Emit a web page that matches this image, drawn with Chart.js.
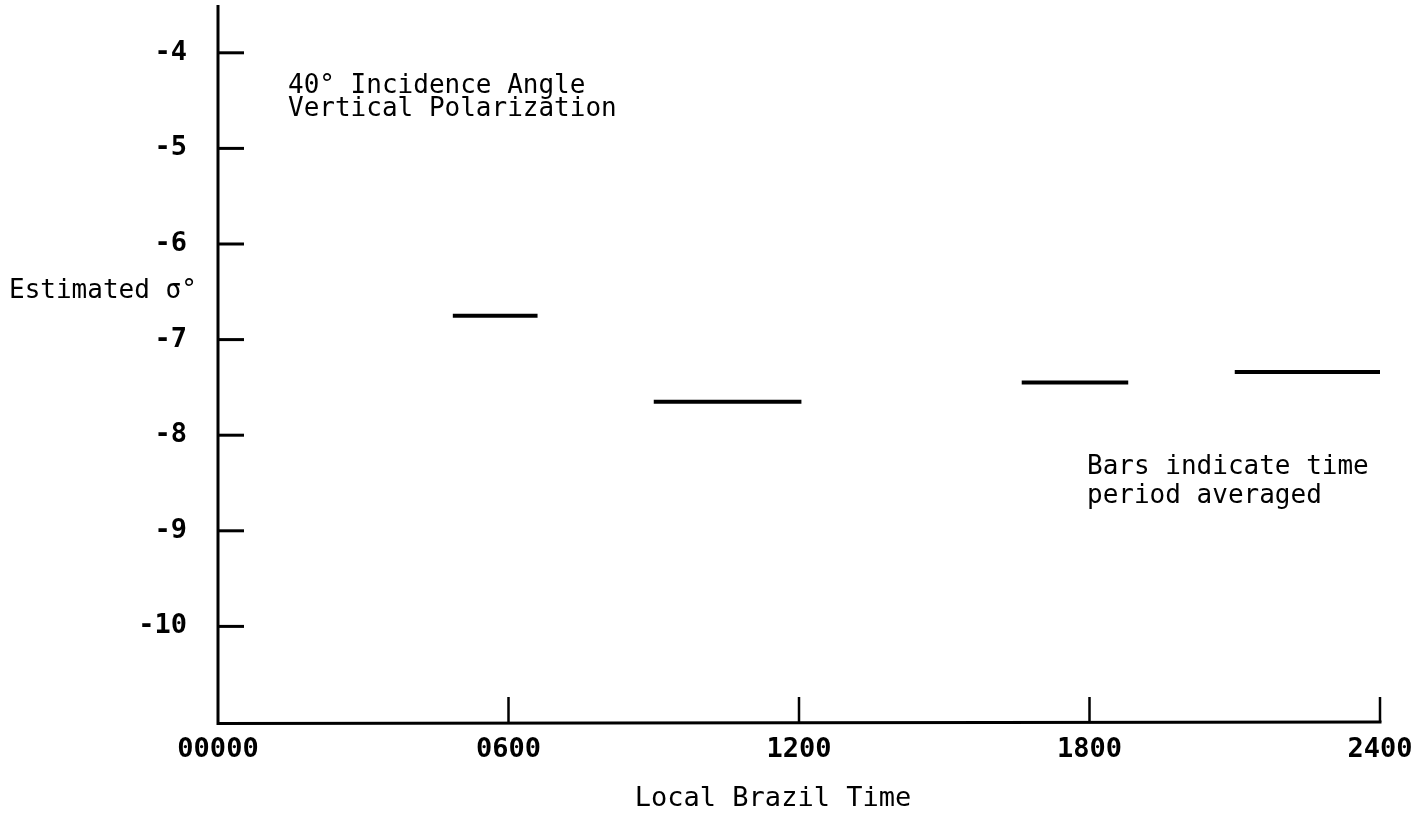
<!DOCTYPE html>
<html>
<head>
<meta charset="utf-8">
<script src="https://cdn.jsdelivr.net/npm/chart.js@4.4.1/dist/chart.umd.min.js"></script>
<style>
  html, body { margin: 0; padding: 0; background: #fff; }
  #wrap { width: 1424px; height: 818px; position: relative; }
</style>
</head>
<body>
<div id="wrap"><canvas id="c" width="1424" height="818"></canvas></div>
<script>
// ---- data ----
const barStartHour = [4.85, 9.0, 16.6, 21.0];
const barEndHour   = [6.6, 12.05, 18.8, 24.0];
const barSigma     = [-6.75, -7.65, -7.45, -7.34];
const xTickValues  = [0, 6, 12, 18, 24];
const xTickLabels  = ['00000', '0600', '1200', '1800', '2400'];
const yTickValues  = [-10, -9, -8, -7, -6, -5, -4];
const yTickLabels  = ['-10', '-9', '-8', '-7', '-6', '-5', '-4'];
const noteTopLines = ['40\u00B0 Incidence Angle', 'Vertical Polarization'];
const noteBarLines = ['Bars indicate time', 'period averaged'];
const yTitle = 'Estimated \u03C3\u00B0';
const xTitle = 'Local Brazil Time';

const datasets = barSigma.map((v, i) => ({
  data: [{x: barStartHour[i], y: v}, {x: barEndHour[i], y: v}],
  showLine: true,
  borderColor: '#000',
  borderWidth: 4,
  pointRadius: 0,
  borderCapStyle: 'butt'
}));

const mono = '"DejaVu Sans Mono", monospace';

const decor = {
  id: 'decor',
  afterDraw(chart) {
    const ctx = chart.ctx;
    const xs = chart.scales.x, ys = chart.scales.y;
    const ca = chart.chartArea;
    ctx.save();
    ctx.strokeStyle = '#000';
    ctx.lineCap = 'butt';
    // axis lines
    ctx.lineWidth = 3;
    ctx.beginPath();
    ctx.moveTo(ca.left, ca.top);
    ctx.lineTo(ca.left, ca.bottom + 1.5);
    ctx.lineTo(xs.getPixelForValue(24) + 1.5, ca.bottom);
    ctx.stroke();
    // inward y tick marks
    ctx.lineWidth = 3;
    yTickValues.forEach(v => {
      const py = ys.getPixelForValue(v);
      ctx.beginPath();
      ctx.moveTo(ca.left, py);
      ctx.lineTo(ca.left + 26, py);
      ctx.stroke();
    });
    // upward x tick marks
    ctx.lineWidth = 2.5;
    xTickValues.slice(1).forEach(v => {
      const px = xs.getPixelForValue(v);
      ctx.beginPath();
      ctx.moveTo(px, ca.bottom);
      ctx.lineTo(px, ca.bottom - 25);
      ctx.stroke();
    });
    // texts
    ctx.fillStyle = '#000';
    ctx.textBaseline = 'alphabetic';
    ctx.textAlign = 'left';
    ctx.font = '26px ' + mono;
    ctx.fillText(noteTopLines[0], 288, 93);
    ctx.fillText(noteTopLines[1], 288, 116);
    ctx.fillText(noteBarLines[0], 1087, 474);
    ctx.fillText(noteBarLines[1], 1087, 503);
    ctx.fillText(yTitle, 9, 298);
    ctx.textAlign = 'center';
    ctx.font = '27px ' + mono;
    ctx.fillText(xTitle, 773, 806);
    ctx.restore();
  }
};

const tickFont = { family: mono, size: 27, weight: 'bold' };

new Chart(document.getElementById('c'), {
  type: 'scatter',
  data: { datasets },
  options: {
    responsive: false,
    animation: false,
    layout: { padding: { top: 5, right: 44, left: 0, bottom: 0 } },
    plugins: { legend: { display: false }, tooltip: { enabled: false } },
    scales: {
      x: {
        type: 'linear', min: 0, max: 24,
        border: { display: false },
        grid: { display: false, drawTicks: false },
        afterBuildTicks: s => { s.ticks = xTickValues.map(v => ({ value: v })); },
        ticks: {
          color: '#000', padding: 12, maxRotation: 0, autoSkip: false,
          font: tickFont,
          callback: (v) => xTickLabels[xTickValues.indexOf(v)]
        },
        afterFit: s => { s.height = 96; s.paddingLeft = 0; s.paddingRight = 0; }
      },
      y: {
        type: 'linear', min: -11, max: -3.5,
        border: { display: false },
        grid: { display: false, drawTicks: false },
        afterBuildTicks: s => { s.ticks = yTickValues.map(v => ({ value: v })); },
        ticks: {
          color: '#000', padding: 31, autoSkip: false,
          font: tickFont,
          callback: (v) => yTickLabels[yTickValues.indexOf(v)]
        },
        afterFit: s => { s.width = 218; s.paddingTop = 0; s.paddingBottom = 0; }
      }
    }
  },
  plugins: [decor]
});
</script>
</body>
</html>
